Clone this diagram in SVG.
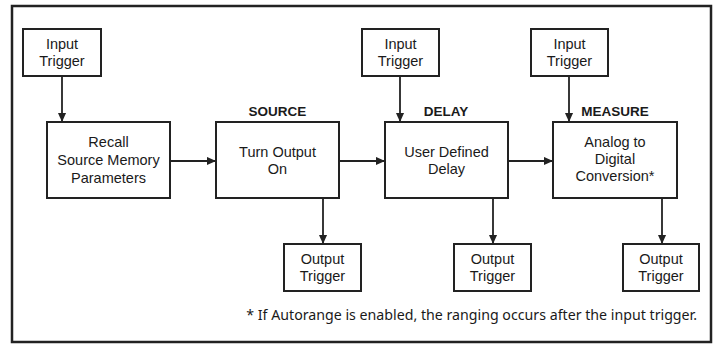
<svg xmlns="http://www.w3.org/2000/svg" width="719" height="347" viewBox="0 0 719 347">
  <style>
    .box { fill: #fff; stroke: #222; stroke-width: 2; }
    .frame { fill: #fff; stroke: #222; stroke-width: 2.5; }
    .t { font-family: "Liberation Sans", Arial, sans-serif; font-size: 14.5px; fill: #1a1a1a; text-anchor: middle; }
    .h { font-family: "Liberation Sans", Arial, sans-serif; font-size: 13.5px; font-weight: bold; fill: #1a1a1a; text-anchor: middle; }
    .note { font-family: "Noto Sans", "Liberation Sans", sans-serif; font-size: 14.2px; fill: #1a1a1a; text-anchor: end; }
    .wire { stroke: #222; stroke-width: 1.8; fill: none; marker-end: url(#arrow); }
  </style>
  <defs>
    <marker id="arrow" viewBox="0 0 10 10" refX="10" refY="5" markerUnits="userSpaceOnUse" markerWidth="9" markerHeight="9" orient="auto">
      <path d="M0,0.5 L10,5 L0,9.5 Z" fill="#222"/>
    </marker>
  </defs>

  <rect x="0" y="0" width="719" height="347" fill="#fff"/>
  <rect class="frame" x="12" y="6" width="699" height="336"/>

  <!-- connectors -->
  <g id="connectors">
    <line class="wire" x1="62" y1="76" x2="62" y2="122"/>
    <line class="wire" x1="170" y1="161" x2="216" y2="161"/>
    <line class="wire" x1="339" y1="161" x2="385" y2="161"/>
    <line class="wire" x1="508" y1="161" x2="553" y2="161"/>
    <line class="wire" x1="400" y1="76" x2="400" y2="122"/>
    <line class="wire" x1="569" y1="76" x2="569" y2="122"/>
    <line class="wire" x1="323" y1="198" x2="323" y2="244"/>
    <line class="wire" x1="493" y1="198" x2="493" y2="244"/>
    <line class="wire" x1="662" y1="198" x2="662" y2="244"/>
  </g>

  <!-- input triggers -->
  <g id="input1">
    <rect class="box" x="23" y="29" width="78" height="47"/>
    <text class="t" x="62" y="49">Input</text>
    <text class="t" x="62" y="66">Trigger</text>
  </g>
  <g id="input2">
    <rect class="box" x="362" y="29" width="77" height="47"/>
    <text class="t" x="400.5" y="49">Input</text>
    <text class="t" x="400.5" y="66">Trigger</text>
  </g>
  <g id="input3">
    <rect class="box" x="531" y="29" width="77" height="47"/>
    <text class="t" x="569.5" y="49">Input</text>
    <text class="t" x="569.5" y="66">Trigger</text>
  </g>

  <!-- main stages -->
  <g id="recall">
    <rect class="box" x="47" y="122" width="123" height="76"/>
    <text class="t" x="108.5" y="147">Recall</text>
    <text class="t" x="108.5" y="165">Source Memory</text>
    <text class="t" x="108.5" y="182.5">Parameters</text>
  </g>
  <g id="source">
    <text class="h" x="277.5" y="116">SOURCE</text>
    <rect class="box" x="216" y="122" width="123" height="76"/>
    <text class="t" x="277.5" y="157">Turn Output</text>
    <text class="t" x="277.5" y="174">On</text>
  </g>
  <g id="delay">
    <text class="h" x="446" y="116">DELAY</text>
    <rect class="box" x="385" y="122" width="123" height="76"/>
    <text class="t" x="446.5" y="157">User Defined</text>
    <text class="t" x="446.5" y="174">Delay</text>
  </g>
  <g id="measure">
    <text class="h" x="615" y="116">MEASURE</text>
    <rect class="box" x="553" y="122" width="124" height="76"/>
    <text class="t" x="615" y="147">Analog to</text>
    <text class="t" x="615" y="164">Digital</text>
    <text class="t" x="615" y="181">Conversion*</text>
  </g>

  <!-- output triggers -->
  <g id="output1">
    <rect class="box" x="284" y="244" width="77" height="47"/>
    <text class="t" x="322.5" y="264">Output</text>
    <text class="t" x="322.5" y="281">Trigger</text>
  </g>
  <g id="output2">
    <rect class="box" x="454" y="244" width="77" height="47"/>
    <text class="t" x="492.5" y="264">Output</text>
    <text class="t" x="492.5" y="281">Trigger</text>
  </g>
  <g id="output3">
    <rect class="box" x="623" y="244" width="76" height="47"/>
    <text class="t" x="661" y="264">Output</text>
    <text class="t" x="661" y="281">Trigger</text>
  </g>

  <text class="note" x="697" y="320">* If Autorange is enabled, the ranging occurs after the input trigger.</text>
</svg>
